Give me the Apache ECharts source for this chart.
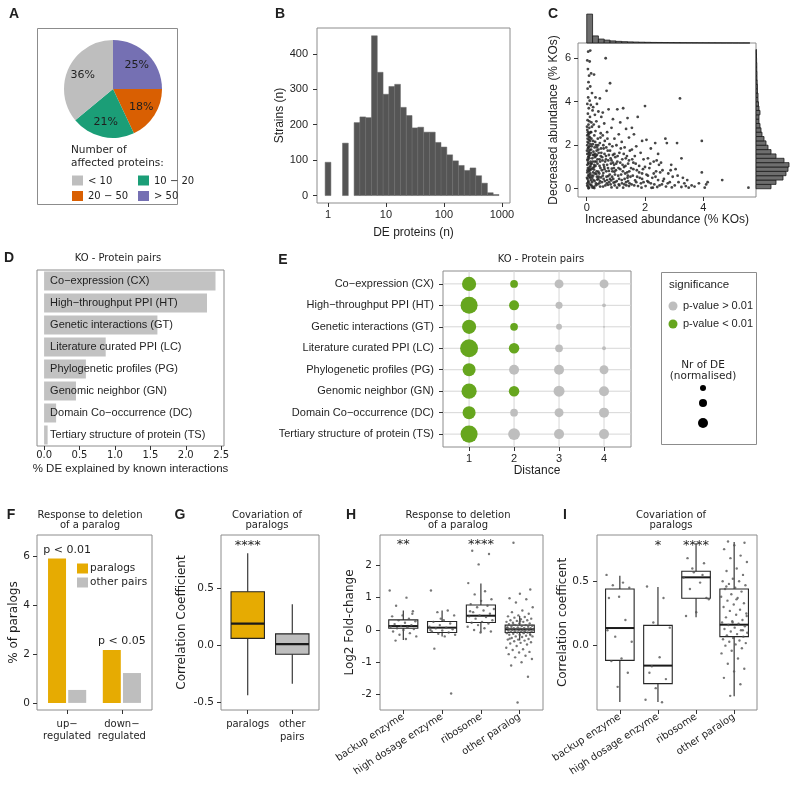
<!DOCTYPE html>
<html>
<head>
<meta charset="utf-8">
<title>KO proteome figure</title>
<script src="https://cdn.jsdelivr.net/npm/echarts@6.0.0/dist/echarts.min.js"></script>
<style>
  html, body { margin: 0; background: #fff; }
  #fig { width: 800px; height: 789px; }
</style>
</head>
<body>
<div id="fig"></div>
<script>
// ---------- data ----------

// A: share of strains by number of affected proteins (clockwise from 12 o'clock)
const affectedClasses = ['> 50', '20 − 50', '10 − 20', '< 10'];
const affectedShare = [25, 18, 21, 36];

// B: histogram of DE proteins per strain, bins of 0.1 on log10 scale
const deBinCenters = [0, 0.3, 0.5, 0.6, 0.7, 0.8, 0.9, 1.0, 1.1, 1.2, 1.3, 1.4, 1.5, 1.6,
  1.7, 1.8, 1.9, 2.0, 2.1, 2.2, 2.3, 2.4, 2.5, 2.6, 2.7, 2.8, 2.9];
const deBinStrains = [94, 148, 206, 222, 220, 451, 348, 286, 308, 314, 249, 226, 191, 193,
  179, 179, 150, 137, 115, 98, 85, 71, 78, 56, 35, 8, 3];

// C: [increased abundance %KOs, decreased abundance %KOs] per protein
const abundancePairs = [
  [0.05,6.3],[0.12,6.35],[0.02,5.9],[0.1,5.85],[0.04,5.5],[0.08,5.2],[0.15,5.3],[0.06,4.9],[0.12,4.7],[0.03,4.6],
  [0.18,4.4],[0.05,4.2],[0.1,4.05],[0.02,3.9],[0.14,3.85],[0.07,3.7],[0.2,3.6],[0.04,3.45],[0.11,3.3],[0.03,3.15],
  [0.16,3.05],[0.06,2.95],[0.09,2.8],[0.02,2.7],[0.13,2.6],[0.05,2.5],[0.08,2.4],[0.03,2.3],[0.12,2.2],[0.06,2.1],
  [0.02,2.0],[0.1,1.95],[0.04,1.85],[0.15,1.8],[0.07,1.7],[0.02,1.6],[0.11,1.55],[0.05,1.45],[0.09,1.4],[0.03,1.3],
  [0.13,1.25],[0.06,1.15],[0.02,1.1],[0.1,1.0],[0.04,0.95],[0.16,0.9],[0.07,0.8],[0.02,0.75],[0.12,0.7],[0.05,0.6],
  [0.09,0.55],[0.03,0.45],[0.14,0.4],[0.06,0.3],[0.02,0.25],[0.1,0.2],[0.04,0.1],[0.17,0.12],[0.08,0.05],
  [0.25,5.25],[0.3,4.2],[0.45,4.15],[0.35,3.9],[0.22,3.75],[0.4,3.55],[0.28,3.4],[0.5,3.3],[0.33,3.1],[0.24,2.95],
  [0.42,2.85],[0.3,2.65],[0.48,2.55],[0.26,2.45],[0.38,2.3],[0.22,2.2],[0.45,2.1],[0.32,2.0],[0.27,1.9],[0.4,1.8],
  [0.23,1.7],[0.5,1.65],[0.35,1.55],[0.28,1.45],[0.44,1.35],[0.21,1.25],[0.37,1.15],[0.3,1.05],[0.47,0.95],[0.25,0.88],
  [0.4,0.78],[0.33,0.68],[0.22,0.6],[0.49,0.52],[0.36,0.42],[0.27,0.35],[0.43,0.25],[0.31,0.15],[0.24,0.08],[0.46,0.1],
  [0.65,6.0],[0.8,4.85],[0.68,4.5],[0.75,3.65],[0.55,3.5],[0.9,3.2],[0.6,3.0],[0.85,2.8],[0.7,2.6],[0.55,2.45],
  [0.95,2.3],[0.62,2.2],[0.78,2.05],[0.88,1.95],[0.58,1.85],[0.72,1.75],[0.95,1.6],[0.66,1.5],[0.82,1.4],[0.54,1.3],
  [0.9,1.2],[0.7,1.1],[0.6,1.0],[0.86,0.92],[0.76,0.82],[0.57,0.72],[0.97,0.65],[0.68,0.55],[0.8,0.45],[0.62,0.35],
  [0.92,0.28],[0.73,0.18],[0.56,0.1],[0.85,0.06],
  [1.05,3.65],[1.25,3.7],[1.4,3.25],[1.15,3.05],[1.35,2.75],[1.1,2.5],[1.45,2.35],[1.2,2.15],[1.02,2.0],[1.3,1.9],
  [1.48,1.75],[1.12,1.65],[1.38,1.5],[1.22,1.35],[1.05,1.25],[1.42,1.15],[1.28,1.0],[1.15,0.9],[1.46,0.8],[1.32,0.7],
  [1.08,0.6],[1.4,0.5],[1.2,0.4],[1.35,0.3],[1.1,0.2],[1.45,0.12],[1.25,0.05],
  [1.75,3.3],[1.55,2.8],[1.62,2.5],[1.9,2.2],[1.7,1.95],[1.55,1.8],[1.85,1.65],[1.65,1.5],[1.95,1.35],[1.6,1.2],
  [1.8,1.05],[1.52,0.95],[1.72,0.85],[1.9,0.7],[1.58,0.6],[1.82,0.5],[1.66,0.38],[1.95,0.3],[1.54,0.2],[1.76,0.12],[1.88,0.05],
  [2.0,3.8],[2.05,2.25],[2.35,2.1],[2.2,1.85],[2.45,1.6],[2.1,1.4],[2.3,1.25],[2.48,1.1],[2.15,0.95],[2.38,0.8],
  [2.05,0.65],[2.25,0.5],[2.45,0.4],[2.12,0.3],[2.32,0.2],[2.02,0.12],[2.42,0.08],[2.22,0.04],
  [2.7,2.3],[2.75,2.1],[2.55,1.2],[2.9,1.1],[2.6,0.85],[2.8,0.7],[2.95,0.55],[2.65,0.45],[2.85,0.3],[2.58,0.2],[2.72,0.1],[2.92,0.06],
  [3.1,2.1],[3.2,4.15],[3.25,1.4],[3.05,0.9],[3.3,0.5],[3.15,0.3],[3.4,0.12],[3.25,0.08],[3.5,0.05],[3.7,0.1],
  [3.85,0.25],[3.95,2.2],[3.95,0.75],[4.1,0.2],[4.15,0.3],[4.05,0.05],[4.65,0.4],[5.55,0.05],
  [0.01,0.5],[0.03,0.85],[0.05,1.2],[0.07,1.5],[0.01,1.75],[0.08,2.25],[0.04,2.6],[0.11,2.35],[0.14,1.65],[0.13,1.05],
  [0.16,0.6],[0.18,0.3],[0.19,1.4],[0.2,0.95],[0.21,2.05],[0.15,2.6],[0.01,2.85],[0.09,3.1],[0.18,2.85],[0.23,0.4],
  [0.26,1.1],[0.29,1.6],[0.34,0.8],[0.37,1.35],[0.41,0.55],[0.39,2.0],[0.44,1.05],[0.48,1.5],[0.32,0.25],[0.2,0.05],
  [0.12,0.5],[0.09,0.9],[0.06,1.9],[0.03,2.15],[0.17,1.15],[0.24,1.55],[0.28,0.7],[0.35,1.9],[0.52,0.85],[0.58,0.45],
  [0.63,1.25],[0.67,0.8],[0.74,1.3],[0.77,0.3],[0.83,1.15],[0.87,0.55],[0.93,0.95],[0.98,1.45],[0.96,0.15],
  [0.02,0.15],[0.05,0.35],[0.08,0.65],[0.11,0.85],[0.14,1.15],[0.03,1.35],[0.07,1.62],[0.1,1.78],[0.13,2.05],[0.16,2.3],
  [0.19,0.5],[0.22,0.75],[0.25,1.0],[0.28,1.25],[0.31,1.5],[0.34,1.75],[0.37,0.2],[0.4,0.45],[0.43,0.7],[0.46,1.25],
  [0.49,1.85],[0.52,0.3],[0.55,0.6],[0.58,1.1],[0.61,1.6],[0.64,0.15],[0.67,1.9],[0.7,0.4],[0.73,0.95],[0.76,1.55],
  [0.79,0.65],[0.82,0.2],[0.85,1.3],[0.88,0.8],[0.91,0.45],[0.94,1.1],[0.97,0.3],[1.0,0.85],[1.03,0.35],[1.06,1.5],
  [1.09,0.95],[1.12,0.15],[1.15,1.2],[1.18,0.65],[1.21,0.25],[1.24,0.8],[1.27,1.6],[1.3,0.45],[1.33,1.05],[1.36,0.15],
  [1.39,0.75],[1.42,0.35],[1.45,1.3],[1.5,0.55],[1.6,0.9],[1.7,0.3],[1.8,0.75],[1.9,0.45],[2.0,1.0],[2.1,0.6],
  [2.2,0.25],[2.3,0.7],[2.4,1.3],[2.5,0.15],[0.06,0.02],[0.15,0.18],[0.26,0.03],[0.35,0.55],[0.45,0.35],[0.02,2.45],
  [0.09,2.55],[0.17,1.95],[0.21,1.55],[0.29,2.15],[0.33,1.25],[0.41,1.65],[0.47,2.35],[0.53,1.45],[0.57,2.0],[0.61,0.9],
  [0.66,1.35],[0.69,0.25],[0.71,2.3],[0.74,0.58],[0.8,1.75],[0.84,0.38],[0.9,1.55],[0.95,0.78],[1.01,1.15],[1.04,0.05],
  [1.11,0.45],[1.17,1.85],[1.23,1.1],[1.29,0.2],[1.34,1.4],[1.41,0.6],[1.47,0.25],[1.56,1.35],[1.63,0.15],[1.68,1.15],
  [1.73,0.55],[1.86,0.25],[1.93,0.9],[2.08,0.35],[2.18,1.15],[2.27,0.05],[2.36,0.55],[2.52,0.75],[2.62,0.35],[2.78,0.25],
  [2.88,0.85],[3.02,0.15],[3.12,0.6],[3.35,0.25],[3.45,0.4],[3.6,0.15]
];
// marginal histograms, 0.2-wide bins starting at 0
const increasedBinCounts = [1100, 270, 150, 110, 80, 62, 50, 42, 36, 30, 26, 22, 20, 17, 15, 13, 11, 10, 9, 8, 7, 6, 5, 4, 4, 3, 2, 2];
const decreasedBinCounts = [150, 200, 270, 300, 320, 330, 280, 200, 150, 120, 100, 80, 60, 50, 40, 30,
  30, 40, 30, 25, 20, 20, 15, 15, 12, 10, 10, 8, 8, 6, 5, 4];

// D: % DE explained by known interactions
const interactionTypes = ['Co−expression (CX)', 'High−throughput PPI (HT)', 'Genetic interactions (GT)',
  'Literature curated PPI (LC)', 'Phylogenetic profiles (PG)', 'Genomic neighbor (GN)',
  'Domain Co−occurrence (DC)', 'Tertiary structure of protein (TS)'];
const deExplained = [2.42, 2.30, 1.60, 0.87, 0.59, 0.45, 0.17, 0.05];

// E: normalised nr of DE by network distance (rows as in interactionTypes)
const distances = [1, 2, 3, 4];
const deNormalised = [
  [2.0, 0.6, 0.8, 0.8],
  [2.9, 1.0, 0.5, 0.15],
  [2.0, 0.6, 0.35, 0.03],
  [3.2, 1.1, 0.6, 0.15],
  [1.7, 1.0, 1.0, 0.8],
  [2.3, 1.1, 1.2, 1.0],
  [1.7, 0.6, 0.8, 1.0],
  [2.9, 1.4, 1.0, 1.0]
];
const pBelow001 = [
  [1, 1, 0, 0], [1, 1, 0, 0], [1, 1, 0, 0], [1, 1, 0, 0],
  [1, 0, 0, 0], [1, 1, 0, 0], [1, 0, 0, 0], [1, 0, 0, 0]
];

// F
const regulation = ['up−\nregulated', 'down−\nregulated'];
const paralogPct = [5.9, 2.16];
const otherPairPct = [0.53, 1.22];
const regulationP = ['p < 0.01', 'p < 0.05'];

// G: [min, q1, median, q3, max]
const covGroups = ['paralogs', 'other\npairs'];
const covStats = [[-0.44, 0.06, 0.19, 0.47, 0.81], [-0.34, -0.08, 0.01, 0.10, 0.36]];
const covStars = ['****', ''];

// H
const paralogClasses = ['backup enzyme', 'high dosage enzyme', 'ribosome', 'other paralog'];
const fcStats = [[-0.31, 0.05, 0.12, 0.31, 0.6], [-0.2, -0.08, 0.07, 0.26, 0.6],
  [-0.08, 0.23, 0.44, 0.77, 1.44], [-0.33, -0.08, 0.02, 0.15, 0.43]];
const fcStars = ['**', '', '****', ''];
const fcValues = [
  [1.22, 1.0, 0.75, 0.58, 0.45, 0.42, 0.35, 0.3, 0.27, 0.22, 0.18, 0.15, 0.12, 0.1, 0.08, 0.05, 0.03, 0.0, -0.05, -0.1, -0.15, -0.2, -0.28, -0.33, 0.5],
  [1.22, 0.6, 0.55, 0.45, 0.3, 0.25, 0.2, 0.15, 0.1, 0.07, 0.05, 0.02, -0.02, -0.05, -0.08, -0.12, -0.15, -0.2, -0.58, -1.97, 0.35, 0.0],
  [2.45, 2.35, 2.03, 1.45, 1.2, 1.1, 0.95, 0.9, 0.8, 0.75, 0.7, 0.65, 0.6, 0.55, 0.5, 0.45, 0.42, 0.4, 0.35, 0.3, 0.25, 0.22, 0.2, 0.15, 0.1, 0.05, 0.0, -0.05, -0.08, 0.58],
  [2.7, 1.25, 1.12, 0.98, 0.95, 0.85, 0.7, 0.6, 0.55, 0.5, 0.45, 0.42, 0.4, 0.38, 0.35, 0.33, 0.3, 0.3, 0.28, 0.25,
   0.25, 0.22, 0.2, 0.2, 0.18, 0.15, 0.15, 0.13, 0.12, 0.1, 0.1, 0.08, 0.08, 0.06, 0.05, 0.05, 0.04, 0.03, 0.02, 0.02,
   0.01, 0.0, 0.0, -0.01, -0.02, -0.02, -0.03, -0.04, -0.05, -0.05, -0.06, -0.08, -0.08, -0.1, -0.1, -0.12, -0.13, -0.15, -0.15, -0.18,
   -0.2, -0.2, -0.22, -0.25, -0.28, -0.3, -0.3, -0.33, -0.35, -0.38, -0.4, -0.42, -0.45, -0.5, -0.55, -0.6, -0.62, -0.68, -0.7, -0.75,
   -0.8, -0.85, -0.9, -1.0, -1.1, -1.45, -2.25, 0.07, -0.07, 0.16, -0.16, 0.27, -0.27]
];

// I
const corStats = [[-0.438, -0.114, 0.137, 0.44, 0.544], [-0.438, -0.295, -0.155, 0.158, 0.456],
  [0.22, 0.368, 0.531, 0.578, 0.798], [-0.394, 0.07, 0.163, 0.44, 0.806]];
const corStars = ['', '*', '****', ''];
const corValues = [
  [0.55, 0.49, 0.47, 0.45, 0.38, 0.37, 0.2, 0.07, 0.03, -0.1, -0.12, -0.21, -0.32, 0.12],
  [0.46, 0.37, 0.18, 0.14, -0.09, -0.21, -0.26, -0.33, -0.42, -0.44, -0.16],
  [0.68, 0.64, 0.57, 0.53, 0.49, 0.44, 0.37, 0.26, 0.23, 0.55, 0.6, 0.36, 0.8],
  [0.81, 0.8, 0.78, 0.75, 0.7, 0.68, 0.65, 0.6, 0.58, 0.55, 0.52, 0.5, 0.5, 0.48, 0.47, 0.45, 0.44, 0.42, 0.4, 0.38,
   0.37, 0.35, 0.33, 0.32, 0.3, 0.28, 0.27, 0.25, 0.24, 0.22, 0.2, 0.19, 0.18, 0.17, 0.16, 0.15, 0.14, 0.13, 0.12, 0.11,
   0.1, 0.09, 0.08, 0.07, 0.06, 0.05, 0.04, 0.03, 0.02, 0.01, 0.0, -0.02, -0.04, -0.06, -0.1, -0.14, -0.18, -0.2, -0.25, -0.3,
   -0.39, 0.23, 0.36, 0.46, 0.12, 0.18]
];

// ---------- styling ----------
const SANS = 'Liberation Sans';
const VERD = 'DejaVu Sans';
const INK = '#1f1f1f';
const BORDER = '#8c8c8c';
const GOLD = '#e6ab02';
const GREY = '#bebebe';
const GREEN = '#66a61e';
const PIE_COLORS = ['#7570b3', '#d95f02', '#1b9e77', '#bebebe'];
const BOX_HALF = 0.375;

function axis(o) {
  const hidden = !!o.hidden;
  const ax = {
    type: o.type || 'value',
    gridIndex: o.grid,
    min: o.min,
    max: o.max,
    inverse: !!o.inverse,
    axisLine: { show: false, onZero: false },
    axisTick: { show: !hidden && o.ticks !== false, length: 4, lineStyle: { color: '#333', width: 1 } },
    axisLabel: {
      show: !hidden && o.labels !== false,
      color: INK, fontFamily: o.font || VERD, fontSize: o.fontSize || 10.5, margin: o.margin || 6,
    },
    splitLine: { show: false },
    name: o.name || '',
    nameLocation: 'middle',
    nameGap: o.nameGap || 20,
    nameTextStyle: { color: INK, fontFamily: o.nameFont || VERD, fontSize: o.nameSize || 12 },
  };
  if (o.tickValues) {
    ax.axisTick.customValues = o.tickValues;
    ax.axisLabel.customValues = o.tickValues;
  }
  if (o.formatter) ax.axisLabel.formatter = o.formatter;
  if (o.rotate) ax.axisLabel.rotate = o.rotate;
  if (o.lineHeight) ax.axisLabel.lineHeight = o.lineHeight;
  if (o.data) ax.data = o.data;
  return ax;
}

const grids = [
  { left: 317, top: 28, width: 193, height: 175 },            // 0 B
  { left: 578, top: 43, width: 178, height: 154 },            // 1 C scatter
  { left: 578, top: 12, width: 178, height: 31, show: false }, // 2 C top margin
  { left: 756, top: 43, width: 36, height: 154, show: false }, // 3 C right margin
  { left: 37, top: 270, width: 187, height: 176 },            // 4 D
  { left: 443, top: 271, width: 188, height: 176 },           // 5 E
  { left: 37, top: 535, width: 115, height: 175 },            // 6 F
  { left: 221, top: 535, width: 98, height: 175 },            // 7 G
  { left: 380, top: 535, width: 163, height: 175 },           // 8 H
  { left: 597, top: 535, width: 160, height: 175 },           // 9 I
].map(g => Object.assign({ show: true, borderColor: BORDER, borderWidth: 1, backgroundColor: 'transparent' }, g));

const fixed1 = v => v.toFixed(1);

const xAxes = [
  axis({ grid: 0, min: -0.19, max: 3.14, tickValues: [0, 1, 2, 3], formatter: v => String(Math.round(Math.pow(10, v))),
    font: SANS, fontSize: 11, margin: 6, name: 'DE proteins (n)', nameFont: SANS, nameGap: 24 }),
  axis({ grid: 1, min: -0.3, max: 5.81, tickValues: [0, 2, 4], font: SANS, fontSize: 11, margin: 5,
    name: 'Increased abundance (% KOs)', nameFont: SANS, nameGap: 13 }),
  axis({ grid: 2, min: -0.3, max: 5.81, hidden: true }),
  axis({ grid: 3, min: 0, max: 360, hidden: true }),
  axis({ grid: 4, min: -0.1, max: 2.54, tickValues: [0, 0.5, 1, 1.5, 2, 2.5], formatter: fixed1, fontSize: 10, margin: 4,
    name: '% DE explained by known interactions', nameFont: SANS, nameSize: 11.5, nameGap: 17 }),
  axis({ grid: 5, min: 0.42, max: 4.6, tickValues: distances, font: SANS, fontSize: 11, margin: 6,
    name: 'Distance', nameFont: SANS, nameGap: 18 }),
  axis({ grid: 6, min: 0.45, max: 2.55, tickValues: [1, 2], formatter: v => regulation[v - 1], fontSize: 10,
    lineHeight: 12, margin: 8 }),
  axis({ grid: 7, min: 0.4, max: 2.6, tickValues: [1, 2], formatter: v => covGroups[v - 1], fontSize: 10,
    lineHeight: 13, margin: 8 }),
  axis({ grid: 8, min: 0.4, max: 4.6, tickValues: [1, 2, 3, 4], formatter: v => paralogClasses[v - 1], fontSize: 10,
    rotate: 33, margin: 6 }),
  axis({ grid: 9, min: 0.4, max: 4.6, tickValues: [1, 2, 3, 4], formatter: v => paralogClasses[v - 1], fontSize: 10,
    rotate: 33, margin: 6 }),
];

const yAxes = [
  axis({ grid: 0, min: -21, max: 473, tickValues: [0, 100, 200, 300, 400], font: SANS, fontSize: 11, margin: 9,
    name: 'Strains (n)', nameFont: SANS, nameGap: 28 }),
  axis({ grid: 1, min: -0.38, max: 6.7, tickValues: [0, 2, 4, 6], font: SANS, fontSize: 11, margin: 7,
    name: 'Decreased abundance (% KOs)', nameFont: SANS, nameGap: 18 }),
  axis({ grid: 2, min: 0, max: 1180, hidden: true }),
  axis({ grid: 3, min: -0.38, max: 6.7, hidden: true }),
  axis({ grid: 4, type: 'category', data: interactionTypes, inverse: true, hidden: true }),
  axis({ grid: 5, min: 0.4, max: 8.6, inverse: true, tickValues: [1, 2, 3, 4, 5, 6, 7, 8],
    formatter: v => interactionTypes[v - 1], font: SANS, fontSize: 11, margin: 9 }),
  axis({ grid: 6, min: -0.29, max: 6.86, tickValues: [0, 2, 4, 6], fontSize: 10.5, margin: 7,
    name: '% of paralogs', nameGap: 17 }),
  axis({ grid: 7, min: -0.57, max: 0.97, tickValues: [-0.5, 0, 0.5], formatter: fixed1, fontSize: 10.5, margin: 7,
    name: 'Correlation Coefficient', nameGap: 33 }),
  axis({ grid: 8, min: -2.48, max: 2.94, tickValues: [-2, -1, 0, 1, 2], fontSize: 10.5, margin: 8,
    name: 'Log2 Fold-change', nameGap: 24 }),
  axis({ grid: 9, min: -0.5, max: 0.86, tickValues: [0, 0.5], formatter: fixed1, fontSize: 10.5, margin: 8,
    name: 'Correlation coefficent', nameGap: 27 }),
];

// ---------- renderers ----------
function rectBetween(p0, p1, style) {
  return {
    type: 'rect',
    shape: { x: Math.min(p0[0], p1[0]), y: Math.min(p0[1], p1[1]),
      width: Math.abs(p1[0] - p0[0]), height: Math.abs(p1[1] - p0[1]) },
    style,
  };
}

// bins given by their left edge along x (vertical bars) or along y (horizontal bars)
function histRenderer(binWidth, horizontal, style) {
  return (params, api) => {
    const a = api.value(0), n = api.value(1);
    if (horizontal) return rectBetween(api.coord([0, a]), api.coord([n, a + binWidth]), style);
    return rectBetween(api.coord([a, 0]), api.coord([a + binWidth, n]), style);
  };
}

function boxRenderer(fills, medianWidth) {
  return (params, api) => {
    const x = api.value(0);
    const lo = api.value(1), q1 = api.value(2), md = api.value(3), q3 = api.value(4), hi = api.value(5);
    const a = api.coord([x - BOX_HALF, q3]);
    const b = api.coord([x + BOX_HALF, q1]);
    const m0 = api.coord([x - BOX_HALF, md]);
    const m1 = api.coord([x + BOX_HALF, md]);
    const top = api.coord([x, hi]);
    const bot = api.coord([x, lo]);
    const ink = { stroke: '#262626', lineWidth: 1.1 };
    return {
      type: 'group',
      children: [
        { type: 'line', shape: { x1: top[0], y1: top[1], x2: top[0], y2: a[1] }, style: ink },
        { type: 'line', shape: { x1: bot[0], y1: b[1], x2: bot[0], y2: bot[1] }, style: ink },
        rectBetween(a, b, { fill: fills[params.dataIndex], stroke: '#262626', lineWidth: 1.1 }),
        { type: 'line', shape: { x1: m0[0], y1: m0[1], x2: m1[0], y2: m1[1] },
          style: { stroke: '#1a1a1a', lineWidth: medianWidth } },
      ],
    };
  };
}

function starRenderer(stars) {
  return (params, api) => {
    const p = api.coord([api.value(0), api.value(1)]);
    return {
      type: 'text', x: p[0], y: p[1],
      style: { text: stars[params.dataIndex], fill: INK, font: '13px "DejaVu Sans"',
        align: 'center', verticalAlign: 'middle', textAlign: 'center', textVerticalAlign: 'middle' },
    };
  };
}

function gridLineRenderer(vertical) {
  return (params, api) => {
    const cs = params.coordSys;
    const p = api.coord([api.value(0), api.value(1)]);
    const shape = vertical
      ? { x1: p[0], y1: cs.y, x2: p[0], y2: cs.y + cs.height }
      : { x1: cs.x, y1: p[1], x2: cs.x + cs.width, y2: p[1] };
    return { type: 'line', shape, style: { stroke: '#d6d6d6', lineWidth: 1 } };
  };
}

function jitter(i) { return ((i * 0.618034) % 1 - 0.5) * 0.7; }
const stripData = groups => groups.flatMap((vals, g) => vals.map((v, i) => [g + 1 + jitter(i + 5 * g), v]));
const boxData = stats => stats.map((s, i) => [i + 1, ...s]);
const on = gi => ({ coordinateSystem: 'cartesian2d', xAxisIndex: gi, yAxisIndex: gi });

const eData = [];
interactionTypes.forEach((_, r) => distances.forEach((d, k) => eData.push([d, r + 1, deNormalised[r][k], pBelow001[r][k]])));

const series = [
  // A
  {
    type: 'pie', center: [113, 89], radius: 49, startAngle: 90, clockwise: true, silent: true,
    label: { show: false }, labelLine: { show: false },
    itemStyle: { borderWidth: 0 },
    data: affectedShare.map((v, i) => ({ name: affectedClasses[i], value: v, itemStyle: { color: PIE_COLORS[i] } })),
  },
  {
    type: 'pie', center: [113, 89], radius: [12, 49], startAngle: 90, clockwise: true, silent: true,
    itemStyle: { color: 'rgba(0,0,0,0)', borderWidth: 0 }, labelLine: { show: false },
    label: { show: true, position: 'inside', formatter: '{c}%', color: INK, fontFamily: VERD, fontSize: 11,
      textBorderWidth: 0 },
    data: affectedShare.map((v, i) => ({ name: affectedClasses[i], value: v })),
  },
  // B
  Object.assign({
    type: 'custom', silent: true,
    renderItem: histRenderer(0.1, false, { fill: '#555555', stroke: '#6b6b6b', lineWidth: 0.5 }),
    data: deBinCenters.map((c, i) => [c - 0.05, deBinStrains[i]]),
  }, on(0)),
  // C
  Object.assign({
    type: 'scatter', silent: true, symbolSize: 2.8,
    itemStyle: { color: '#262626', opacity: 0.85 },
    data: abundancePairs,
  }, on(1)),
  Object.assign({
    type: 'custom', silent: true,
    renderItem: histRenderer(0.2, false, { fill: '#6e6e6e', stroke: '#1a1a1a', lineWidth: 0.8 }),
    data: increasedBinCounts.map((n, i) => [i * 0.2, n]),
  }, on(2)),
  Object.assign({
    type: 'custom', silent: true,
    renderItem: histRenderer(0.2, true, { fill: '#6e6e6e', stroke: '#1a1a1a', lineWidth: 0.8 }),
    data: decreasedBinCounts.map((n, i) => [i * 0.2, n]),
  }, on(3)),
  // D
  Object.assign({
    type: 'bar', silent: true, barWidth: 19,
    itemStyle: { color: '#c2c2c2' },
    label: { show: true, position: 'insideLeft', distance: 6, formatter: p => p.name,
      color: INK, fontFamily: SANS, fontSize: 11 },
    data: deExplained,
  }, on(4)),
  // E
  Object.assign({ type: 'custom', silent: true, z: 1, renderItem: gridLineRenderer(true),
    data: distances.map(d => [d, 1]) }, on(5)),
  Object.assign({ type: 'custom', silent: true, z: 1, renderItem: gridLineRenderer(false),
    data: interactionTypes.map((_, r) => [1, r + 1]) }, on(5)),
  Object.assign({
    type: 'scatter', silent: true, z: 3,
    symbolSize: v => 10 * Math.sqrt(v[2]),
    itemStyle: { color: p => (p.value[3] ? GREEN : GREY), opacity: 1 },
    data: eData,
  }, on(5)),
  // F
  Object.assign({
    type: 'bar', name: 'paralogs', silent: true, barWidth: 18, barGap: '12%',
    itemStyle: { color: GOLD },
    label: { show: true, position: 'top', distance: 3, offset: [10, 0], formatter: p => regulationP[p.dataIndex],
      color: INK, fontFamily: VERD, fontSize: 11 },
    data: paralogPct.map((v, i) => [i + 1, v]),
  }, on(6)),
  Object.assign({
    type: 'bar', name: 'other pairs', silent: true, barWidth: 18, barGap: '12%',
    itemStyle: { color: GREY },
    data: otherPairPct.map((v, i) => [i + 1, v]),
  }, on(6)),
  // G
  Object.assign({ type: 'custom', silent: true, renderItem: boxRenderer([GOLD, GREY], 2.4), data: boxData(covStats) }, on(7)),
  Object.assign({ type: 'custom', silent: true, renderItem: starRenderer(covStars), data: covStars.map((_, i) => [i + 1, 0.88]) }, on(7)),
  // H
  Object.assign({ type: 'custom', silent: true, renderItem: boxRenderer(['none', 'none', 'none', 'none'], 2), data: boxData(fcStats) }, on(8)),
  Object.assign({ type: 'scatter', silent: true, symbolSize: 2.4, itemStyle: { color: '#555', opacity: 0.8 },
    data: stripData(fcValues) }, on(8)),
  Object.assign({ type: 'custom', silent: true, renderItem: starRenderer(fcStars), data: fcStars.map((_, i) => [i + 1, 2.63]) }, on(8)),
  // I
  Object.assign({ type: 'custom', silent: true, renderItem: boxRenderer(['none', 'none', 'none', 'none'], 2), data: boxData(corStats) }, on(9)),
  Object.assign({ type: 'scatter', silent: true, symbolSize: 2.4, itemStyle: { color: '#555', opacity: 0.8 },
    data: stripData(corValues) }, on(9)),
  Object.assign({ type: 'custom', silent: true, renderItem: starRenderer(corStars), data: corStars.map((_, i) => [i + 1, 0.78]) }, on(9)),
];

// ---------- text, legends, frames ----------
function txt(text, x, y, font, align) {
  return {
    type: 'text', x, y, silent: true,
    style: { text, fill: INK, font, textAlign: align || 'center', textVerticalAlign: 'middle',
      align: align || 'center', verticalAlign: 'middle' },
  };
}
const LETTER = 'bold 14px "Liberation Sans"';
const TITLE = '10px "DejaVu Sans"';

const graphics = [
  txt('A', 14, 14, LETTER), txt('B', 280, 14, LETTER), txt('C', 553, 14, LETTER),
  txt('D', 9, 258, LETTER), txt('E', 283, 260, LETTER), txt('F', 11, 515, LETTER),
  txt('G', 180, 515, LETTER), txt('H', 351, 515, LETTER), txt('I', 565, 515, LETTER),
  // A frame + legend
  { type: 'rect', silent: true, shape: { x: 37.5, y: 28.5, width: 140, height: 176 },
    style: { fill: 'none', stroke: BORDER, lineWidth: 1 } },
  txt('Number of', 71, 150, '10.5px "DejaVu Sans"', 'left'),
  txt('affected proteins:', 71, 163, '10.5px "DejaVu Sans"', 'left'),
  // titles
  txt('KO - Protein pairs', 118, 258, TITLE),
  txt('KO - Protein pairs', 541, 259, TITLE),
  txt('Response to deletion', 90, 515, TITLE), txt('of a paralog', 90, 525.5, TITLE),
  txt('Covariation of', 267, 515, TITLE), txt('paralogs', 267, 525.5, TITLE),
  txt('Response to deletion', 458, 515, TITLE), txt('of a paralog', 458, 525.5, TITLE),
  txt('Covariation of', 671, 515, TITLE), txt('paralogs', 671, 525.5, TITLE),
  // E legend
  { type: 'rect', silent: true, shape: { x: 661.5, y: 272.5, width: 95, height: 172 },
    style: { fill: 'none', stroke: BORDER, lineWidth: 1 } },
  txt('significance', 669, 285, '11.5px "Liberation Sans"', 'left'),
  { type: 'circle', silent: true, shape: { cx: 673, cy: 306, r: 4.5 }, style: { fill: GREY } },
  txt('p-value > 0.01', 683, 306, '11px "Liberation Sans"', 'left'),
  { type: 'circle', silent: true, shape: { cx: 673, cy: 324, r: 4.5 }, style: { fill: GREEN } },
  txt('p-value < 0.01', 683, 324, '11px "Liberation Sans"', 'left'),
  txt('Nr of DE', 703, 365, '10.5px "DejaVu Sans"'),
  txt('(normalised)', 703, 376, '10.5px "DejaVu Sans"'),
  { type: 'circle', silent: true, shape: { cx: 703, cy: 388, r: 3 }, style: { fill: '#000' } },
  { type: 'circle', silent: true, shape: { cx: 703, cy: 403, r: 4 }, style: { fill: '#000' } },
  { type: 'circle', silent: true, shape: { cx: 703, cy: 423, r: 5 }, style: { fill: '#000' } },
];

// A legend keys: two columns, two rows, order < 10, 10 − 20, 20 − 50, > 50
[3, 2, 1, 0].forEach((k, i) => {
  const x = i % 2 === 0 ? 72 : 138;
  const y = i < 2 ? 175.5 : 191;
  graphics.push({ type: 'rect', silent: true, shape: { x, y, width: 11, height: 10 }, style: { fill: PIE_COLORS[k] } });
  graphics.push(txt(affectedClasses[k], x + 16, y + 5.5, '10px "DejaVu Sans"', 'left'));
});

const chart = echarts.init(document.getElementById('fig'), null, { renderer: 'canvas' });
chart.setOption({
  animation: false,
  backgroundColor: '#fff',
  textStyle: { fontFamily: VERD },
  grid: grids,
  xAxis: xAxes,
  yAxis: yAxes,
  legend: {
    data: ['paralogs', 'other pairs'], left: 77, top: 563, orient: 'vertical', padding: 0,
    itemWidth: 11, itemHeight: 10, itemGap: 3, icon: 'rect', selectedMode: false,
    textStyle: { fontFamily: VERD, fontSize: 10.5, color: INK, padding: [0, 0, 0, -3] },
  },
  graphic: graphics,
  series,
});
</script>
</body>
</html>
